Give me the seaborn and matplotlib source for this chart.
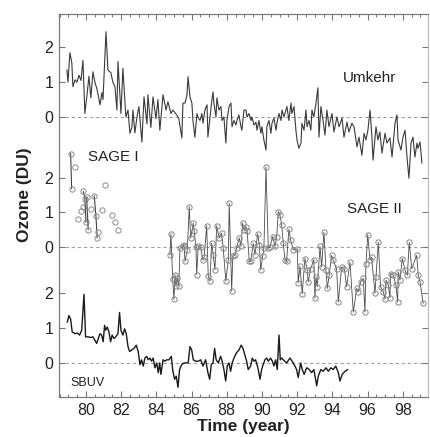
import numpy as np
import pandas as pd
import matplotlib
matplotlib.use('Agg')
import matplotlib.pyplot as plt
from matplotlib.ticker import MultipleLocator
import seaborn as sns

sns.set_style('ticks')
plt.rcParams['font.family'] = ['Liberation Sans', 'DejaVu Sans']
plt.rcParams['axes.unicode_minus'] = False

###############################################################################
# Umkehr (monthly anomalies, DU)
umk_year = [78.92, 78.98, 79.09, 79.20, 79.26, 79.38, 79.49, 79.60, 79.72, 79.83,
            79.94, 80.06, 80.17, 80.28, 80.40, 80.51, 80.63, 80.80, 80.91, 80.97,
            81.14, 81.25, 81.42, 81.53, 81.65, 81.76, 81.82, 81.99, 82.10, 82.27,
            82.39, 82.50, 82.61, 82.67, 82.78, 82.90, 83.01, 83.18, 83.30, 83.47,
            83.52, 83.69, 83.81, 83.98, 84.09, 84.20, 84.38, 84.55, 84.66, 84.83,
            84.94, 85.17, 85.28, 85.45, 85.51,
            85.63, 85.74, 85.80, 85.91, 86.02, 86.08, 86.19, 86.31, 86.36, 86.48,
            86.59, 86.65, 86.76, 86.88, 86.93, 87.05, 87.16, 87.22, 87.27, 87.39,
            87.44, 87.56, 87.67, 87.73, 87.84, 87.95, 88.01, 88.13, 88.24, 88.30,
            88.41, 88.52, 88.58, 88.69, 88.81, 88.86, 88.98, 89.09, 89.15, 89.26,
            89.38, 89.43, 89.55, 89.66, 89.72, 89.83, 89.94, 90.00, 90.11, 90.23,
            90.28, 90.40, 90.51, 90.57, 90.68, 90.80, 90.85, 90.97, 91.08, 91.14,
            91.25, 91.36, 91.42, 91.53, 91.65, 91.70, 91.82, 91.93, 91.99, 92.10,
            92.22, 92.27, 92.39, 92.50, 92.56, 92.67, 92.78, 92.84, 92.95,
            93.07, 93.18, 93.24, 93.35, 93.47, 93.58, 93.69, 93.81, 93.98, 94.09,
            94.26, 94.38, 94.55, 94.66, 94.83, 94.94, 95.11, 95.23, 95.40, 95.51,
            95.68, 95.80, 95.91, 96.02, 96.14, 96.25, 96.31, 96.48, 96.59, 96.70,
            96.82, 96.99, 97.10, 97.27, 97.39, 97.56, 97.67, 97.73, 97.90, 98.01,
            98.13, 98.24, 98.35, 98.47, 98.58, 98.69, 98.81, 98.86, 98.98, 99.09]
umk_val = [1.36, 1.00, 1.85, 1.55, 0.87, 1.07, 1.00, 1.20, 1.05, 1.63,
           0.10, 0.63, 1.17, 0.55, 1.30, 1.00, 0.80, 0.35, 0.70, 0.50,
           2.45, 1.35, 1.27, 1.00, 0.87, 0.20, 1.60, 0.10, 1.40, 0.00,
           0.20, -0.47, -0.30, 0.20, -0.46, 0.00, 0.30, -0.72, 0.58, -0.20,
           0.64, -0.30, 0.58, -0.05, 0.50, -0.38, 0.64, 0.20, 0.44, 0.10,
           0.20, 0.05, -0.05, -0.60, 0.40,
           0.40, 0.64, 1.16, 0.58, 0.40, -0.10, -0.58, 0.10, 0.00, -0.10,
           0.10, -0.18, 0.20, 0.35, -0.58, 0.00, 0.50, 0.72, 0.40, 0.00,
           0.55, 0.20, 0.30, -0.10, 0.00, -0.75, -0.10, 0.30, 0.40, -0.28,
           -0.10, -0.23, -0.10, 0.06, -0.28, -0.38, 0.20, 0.20, 0.00, 0.10,
           -0.10, 0.00, -0.23, -0.15, -0.38, -0.10, -0.47, -0.28, -0.66, -0.95,
           -0.28, -0.10, -0.47, -0.18, -0.03, -0.38, -0.18, 0.10, -0.10, 0.20,
           0.00, 0.20, 0.30, -0.10, 0.40, 0.10, 0.30, -0.38, -0.66, -0.90,
           -0.75, -0.18, -0.38, 0.20, -0.28, -0.10, -0.38, 0.20, 0.00,
           0.40, 0.84, -0.58, 0.30, -0.10, -0.52, 0.20, -0.28, 0.10, -0.43,
           0.00, -0.28, -0.03, -0.58, -0.15, -0.43, -0.18, -0.28, -0.86, -0.58,
           -1.10, -0.47, -0.66, -0.38, 0.20, -0.58, -1.24, -0.28, -0.66, -0.43,
           -1.04, -0.47, -0.75, -0.60, -1.15, -0.18, 0.06, -0.66, -0.95, -0.58,
           -0.38, -1.15, -1.76, -0.75, -0.58, -1.15, -0.75, -0.90, -0.72, -1.33]

# SAGE I (profiles, grouped where joined by a line)
sage1_year = [79.13, 79.19, 79.38, 79.53, 79.70, 79.81, 79.85, 79.94, 80.00, 80.04,
              80.13, 80.28, 80.47, 80.57, 80.64, 80.70, 80.89, 81.08, 81.49, 81.65,
              81.80]
sage1_val = [2.69, 1.68, 2.29, 0.82, 1.03, 1.14, 1.60, 1.39, 0.71, 1.43,
             0.50, 1.10, 1.48, 0.88, 0.27, 0.43, 1.07, 1.79, 0.93, 0.71,
             0.50]
sage1_seg = [0, 0, 1, 2, 3, 4, 5, 5, 5, 6,
             6, 7, 8, 8, 8, 9, 10, 11, 12, 13,
             14]

# SAGE II
sage2_year = [84.77, 84.83, 84.93, 85.00, 85.06, 85.11, 85.19, 85.28, 85.34, 85.49,
              85.57, 85.63, 85.76, 85.87, 85.95, 86.10, 86.15, 86.25, 86.29, 86.38,
              86.52, 86.63, 86.72, 86.86, 86.95, 87.05, 87.14, 87.23, 87.33, 87.43,
              87.57, 87.71, 87.80, 87.95, 88.09, 88.14, 88.28, 88.34, 88.47, 88.56,
              88.71, 88.81, 88.90, 88.98, 89.09, 89.16, 89.28, 89.36, 89.51, 89.60,
              89.76, 89.85, 89.93, 90.04, 90.11, 90.23, 90.36, 90.45, 90.61, 90.74,
              90.84, 90.93, 91.02, 91.12, 91.21, 91.31, 91.40, 91.53, 91.63, 91.78,
              92.01, 92.06, 92.16, 92.29, 92.44, 92.57, 92.63, 92.77, 92.95, 93.01,
              93.07, 93.14, 93.30, 93.39, 93.52, 93.64, 93.71, 93.82, 93.96, 94.05,
              94.24, 94.34, 94.53, 94.68, 94.81, 95.00, 95.19, 95.38, 95.47, 95.61,
              95.76, 95.85, 95.91, 96.01, 96.14, 96.23, 96.42, 96.48, 96.61, 96.74,
              96.89, 96.99, 97.05, 97.18, 97.27, 97.31, 97.46, 97.61, 97.71, 97.74,
              97.84, 97.97, 98.13, 98.26, 98.37, 98.51, 98.79, 98.88, 98.98, 99.16]
sage2_val = [-0.22, 0.38, -0.93, -1.50, -0.79, -1.12, -0.89, -1.12, -0.03, 0.02,
             0.07, -0.41, -0.08, 1.16, 0.26, 0.69, 0.45, 0.00, -0.79, 0.02,
             0.00, -0.36, -0.29, 0.61, -0.84, -0.98, 0.11, -0.22, -0.65, 0.61,
             0.26, 0.40, -0.03, -0.98, -0.36, 1.26, -1.27, -0.27, -0.22, -0.03,
             0.26, 0.02, 0.69, 0.49, 0.59, 0.45, -0.41, -0.41, 0.11, -0.22,
             0.38, 0.07, -0.65, -0.27, -0.03, 2.30, -0.03, 0.00, 0.30, 0.02,
             0.30, 1.02, 0.92, 0.64, 0.11, -0.36, -0.41, 0.51, 0.21, -0.08,
             -0.05, -1.03, -0.55, -1.34, -0.33, -0.67, -1.00, -0.62, -0.36, -1.47,
             -0.86, -1.14, 0.02, -0.57, 0.43, -0.67, -1.19, -0.81, -0.24, -0.38,
             -0.62, -1.58, -0.57, -0.62, -1.14, -0.43, -1.87, -1.19, -1.28, -1.00,
             -0.90, -1.87, -0.48, 0.36, -0.38, -0.29, -1.33, -0.86, 0.14, -1.14,
             -1.28, -1.50, -0.95, -1.09, -1.46, -0.76, -0.81, -1.09, -1.58, -0.71,
             -0.95, -0.33, -0.67, -0.81, 0.14, -0.62, -0.24, -0.81, -1.00, -1.62]

# SBUV
sbuv_year = [78.94, 79.03, 79.13, 79.22, 79.38, 79.51, 79.64, 79.76, 79.89, 79.98,
             80.13, 80.27, 80.40, 80.51, 80.61, 80.70, 80.80, 80.89, 80.98, 81.06,
             81.12, 81.21, 81.31, 81.40, 81.49, 81.59, 81.69, 81.82, 81.91, 81.99,
             82.10, 82.20, 82.29, 82.39, 82.48, 82.60, 82.73, 82.86, 82.97, 83.07,
             83.16, 83.26, 83.35, 83.45, 83.54, 83.64, 83.73, 83.82, 83.92, 84.02,
             84.11, 84.19, 84.26, 84.38, 84.49, 84.59, 84.72, 84.85, 84.94, 85.04,
             85.13, 85.23, 85.32, 85.44, 85.57, 85.70, 85.81, 85.91, 86.01, 86.10,
             86.23, 86.38, 86.52, 86.65, 86.80, 86.93, 87.03, 87.12, 87.22, 87.31,
             87.40, 87.52, 87.65, 87.74, 87.84, 87.94, 88.03, 88.13, 88.22, 88.31,
             88.41, 88.54, 88.69, 88.82, 88.92, 89.03, 89.13, 89.22, 89.36, 89.45,
             89.55, 89.64, 89.77, 89.89, 89.98, 90.07, 90.17, 90.27, 90.36, 90.49,
             90.59, 90.68, 90.78, 90.87, 90.97, 91.04, 91.12, 91.21, 91.40, 91.59,
             91.78, 91.97, 92.06, 92.20, 92.29, 92.40, 92.54, 92.69, 92.82, 92.95,
             93.11, 93.20, 93.35, 93.48, 93.64, 93.77, 93.92, 94.05, 94.19, 94.34,
             94.43, 94.56, 94.72, 94.87]
sbuv_val = [1.17, 1.36, 1.26, 0.89, 0.84, 0.86, 0.80, 0.94, 1.97, 0.75,
            0.75, 0.73, 0.75, 0.65, 0.56, 0.70, 0.84, 0.80, 0.61, 1.08,
            0.94, 1.03, 0.89, 0.61, 0.80, 0.70, 0.75, 0.84, 1.45, 0.94,
            0.80, 0.98, 0.84, 0.47, 0.33, 0.37, 0.42, 0.51, 0.33, -0.05,
            0.09, -0.09, 0.14, 0.19, 0.09, 0.14, 0.05, 0.14, -0.14, 0.00,
            -0.28, 0.00, -0.33, 0.09, 0.05, 0.09, 0.09, 0.19, -0.24, -0.47,
            -0.38, -0.70, -0.19, -0.05, 0.00, 0.00, 0.00, 0.47, 0.37, 0.09,
            0.05, 0.05, 0.09, -0.09, 0.09, -0.28, -0.47, -0.05, 0.00, 0.42,
            0.09, 0.00, 0.19, 0.05, -0.19, -0.52, -0.09, 0.00, -0.24, 0.00,
            0.14, 0.28, 0.37, 0.51, 0.42, 0.23, 0.05, -0.19, -0.09, 0.14,
            0.05, 0.09, -0.14, -0.47, -0.19, -0.05, 0.09, 0.14, 0.05, 0.14,
            0.05, -0.09, 0.09, -0.19, 0.80, 0.09, 0.14, 0.09, 0.00, 0.14,
            0.00, -0.19, -0.42, 0.00, -0.19, -0.33, -0.14, -0.19, -0.28, -0.19,
            -0.66, -0.38, -0.19, -0.24, -0.14, -0.24, -0.14, -0.19, -0.09, -0.28,
            -0.52, -0.33, -0.24, -0.19]

YTICK_LABELS = ['0', '1', '2']
###############################################################################
# vertical offsets of the three stacked records
OFF_SBUV, OFF_SAGE, OFF_UMK = 0.0, 3.33, 7.07

fig = plt.figure(figsize=(4.30, 4.37), dpi=100)
ax = fig.add_axes([0.1372, 0.0915, 0.858, 0.8764])

for off in (OFF_SBUV, OFF_SAGE, OFF_UMK):
    ax.axhline(off, color='#a0a0a0', lw=0.8, ls=(0, (3, 2.5)), zorder=0.5)

sns.lineplot(x=np.array(umk_year), y=np.array(umk_val) + OFF_UMK, ax=ax,
             estimator=None, sort=False, color='#3a3a3a', lw=0.8)

sns.lineplot(x=np.array(sbuv_year), y=np.array(sbuv_val) + OFF_SBUV, ax=ax,
             estimator=None, sort=False, color='#1a1a1a', lw=1.0)

sage1 = pd.DataFrame({'year': sage1_year,
                      'val': np.array(sage1_val) + OFF_SAGE,
                      'seg': sage1_seg})
sns.lineplot(data=sage1, x='year', y='val', units='seg', ax=ax,
             estimator=None, sort=False, color='#444444', lw=0.8,
             marker='o', markersize=3.8, markerfacecolor='none',
             markeredgecolor='#8c8c8c', markeredgewidth=0.7)

sns.lineplot(x=np.array(sage2_year), y=np.array(sage2_val) + OFF_SAGE, ax=ax,
             estimator=None, sort=False, color='#4a4a4a', lw=0.6,
             marker='o', markersize=3.8, markerfacecolor='none',
             markeredgecolor='#858585', markeredgewidth=0.7)

# labels for each record
ax.text(96.14, 8.19, 'Umkehr', fontsize=11, color='#222222', ha='center', va='center')
ax.text(80.11, 5.92, 'SAGE I', fontsize=11, color='#222222', ha='left', va='center')
ax.text(94.83, 4.43, 'SAGE II', fontsize=11, color='#222222', ha='left', va='center')
ax.text(79.09, -0.57, 'SBUV', fontsize=9, color='#222222', ha='left', va='center')

ax.set_xlim(78.47, 99.43)
ax.set_ylim(-0.98, 10.03)

ax.xaxis.set_major_locator(MultipleLocator(2))
ax.xaxis.set_minor_locator(MultipleLocator(0.5))
yt = []
ytl = []
for off in (OFF_SBUV, OFF_SAGE, OFF_UMK):
    for i, lab in enumerate(YTICK_LABELS):
        yt.append(off + i)
        ytl.append(lab)
ax.set_yticks(yt)
ax.set_yticklabels(ytl)

ax.tick_params(axis='both', which='both', direction='in', top=True, right=True,
               color='#777777', width=0.8)
ax.tick_params(which='major', length=4, labelsize=11.5, pad=4, labelcolor='#222222')
ax.tick_params(which='minor', length=2.5)

for side in ('left', 'bottom', 'top'):
    ax.spines[side].set_color('#7a7a7a')
    ax.spines[side].set_linewidth(0.9)
ax.spines['right'].set_color('#b8b8b8')
ax.spines['right'].set_linewidth(0.8)

ax.set_xlabel('Time (year)', fontsize=12.5, fontweight='bold', color='#222222', labelpad=1)
ax.set_ylabel('')
fig.text(25 / 430, 1 - 195 / 437, 'Ozone (DU)', fontsize=12.5, fontweight='bold',
         color='#222222', rotation=90, ha='center', va='center')

fig.savefig('out.png', dpi=100)
